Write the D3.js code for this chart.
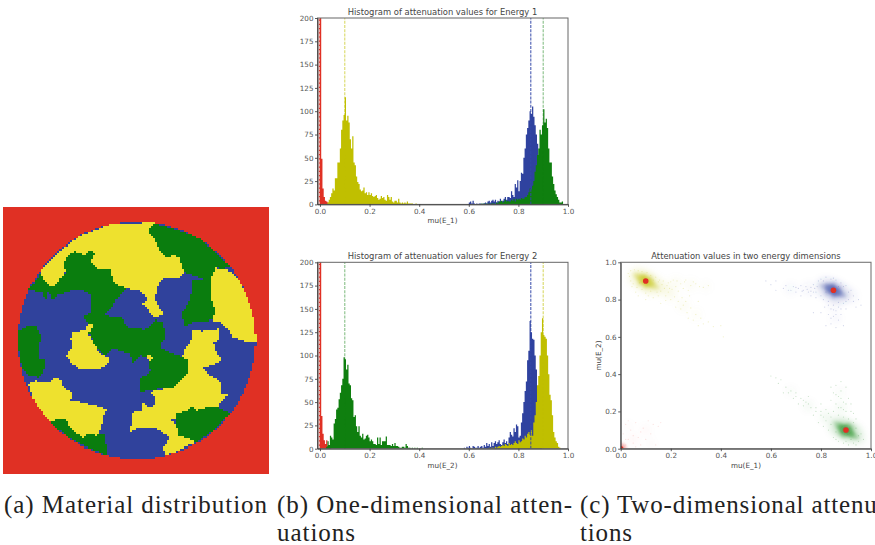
<!DOCTYPE html>
<html>
<head>
<meta charset="utf-8">
<script src="https://d3js.org/d3.v7.min.js"></script>
<style>
html, body { margin: 0; padding: 0; background: #fff; overflow: hidden; }
text { font-family: "DejaVu Sans", sans-serif; fill: #444; }
.caption { font-family: "Liberation Serif", serif; font-size: 25px; fill: #222; }
.axis path, .axis line { stroke: #333; stroke-width: 0.8; }
.axis text { font-size: 7.2px; fill: #555; font-family: "DejaVu Sans", sans-serif; }
</style>
</head>
<body>
<svg id="plate" width="875" height="545"></svg>
<script>
// material map regions, in map units (blue is what is left inside the disc)
var mapYellow = [
  [[120,215],[170,160],[235,110],[330,72],[465,65],[445,85],[445,100],[465,120],[480,150],[500,172],[518,165],[540,170],[545,205],[555,215],[530,235],[495,230],[478,245],[470,265],[465,300],[478,320],[490,340],[465,355],[450,340],[440,325],[425,310],[440,295],[425,275],[400,268],[380,265],[355,255],[340,240],[332,205],[315,208],[300,210],[282,195],[268,185],[285,160],[270,148],[258,162],[245,160],[225,152],[205,165],[188,188],[195,215],[180,235],[165,258],[145,255],[130,235]],
  [[650,200],[660,210],[670,205],[690,215],[715,235],[745,290],[767,370],[767,425],[735,425],[720,420],[695,410],[680,380],[660,365],[635,360],[650,325],[640,320],[632,290],[630,235]],
  [[270,365],[280,370],[265,400],[280,430],[292,450],[305,465],[325,470],[325,490],[310,500],[300,510],[270,505],[240,510],[215,490],[198,465],[215,440],[212,415],[215,395],[255,390]],
  [[85,550],[105,540],[125,548],[150,545],[162,535],[180,535],[190,565],[215,575],[215,595],[195,605],[225,600],[260,610],[285,615],[320,628],[308,650],[305,680],[290,705],[265,700],[250,712],[225,695],[215,690],[195,655],[170,660],[150,665],[110,620]],
  [[580,390],[605,392],[655,385],[660,420],[640,430],[650,455],[665,480],[640,495],[605,505],[630,525],[660,540],[665,585],[685,585],[665,600],[655,620],[620,622],[590,630],[578,615],[560,632],[525,640],[525,660],[510,655],[530,680],[530,705],[560,712],[590,725],[500,765],[490,745],[510,710],[470,685],[440,680],[410,685],[390,695],[400,635],[425,630],[430,610],[445,622],[460,620],[465,595],[450,575],[525,560],[535,545],[565,515],[565,478],[545,470],[555,445],[575,420]],
  [[445,458],[460,475],[445,485],[440,470]]
];
var mapGreen = [
  [[120,220],[145,255],[165,258],[195,215],[188,188],[205,165],[225,152],[245,160],[258,162],[270,148],[285,160],[268,185],[300,210],[332,205],[340,240],[380,265],[362,282],[345,300],[340,315],[315,345],[345,352],[360,348],[372,365],[385,380],[415,380],[430,388],[450,375],[465,360],[490,365],[497,410],[480,440],[510,455],[565,478],[565,515],[535,545],[525,560],[450,570],[420,575],[418,535],[450,515],[445,470],[420,465],[398,488],[390,460],[362,452],[340,445],[315,465],[295,445],[280,430],[268,400],[270,370],[252,350],[272,335],[272,285],[250,270],[215,272],[175,285],[160,298],[145,275],[135,298],[125,276],[85,270],[100,250]],
  [[445,85],[465,70],[520,85],[590,110],[640,150],[690,200],[660,208],[650,200],[630,235],[632,290],[640,320],[650,325],[635,360],[600,362],[580,365],[555,380],[545,340],[565,310],[580,265],[575,240],[610,235],[580,225],[555,215],[545,205],[540,170],[518,165],[500,172],[480,150],[465,120],[445,100]],
  [[55,390],[85,375],[105,375],[125,410],[115,440],[115,475],[135,480],[135,505],[115,530],[85,525],[65,500],[55,440]],
  [[150,665],[170,660],[195,655],[225,695],[250,712],[265,700],[290,705],[315,700],[322,765],[270,745],[210,715]],
  [[525,640],[560,632],[578,615],[590,630],[620,622],[655,620],[690,640],[640,690],[590,725],[560,712],[530,705],[530,680],[525,660]],
  [[730,265],[745,280],[740,290],[728,275]]
];
var mapCircle = {cx: 410, cy: 420, r: 357};

// histogram counts, one bin every 0.005, first value at the given start
var binWidth = 0.005;
var e1Red = {start: -0.005, counts: [500,500,49,17,8,4,3,2,1]};
var e1Yellow = {start: 0.03, counts: [2,5,8,12,17,15,28,28,45,45,60,80,90,96,115,90,95,88,70,60,73,45,42,30,24,22,16,14,15,18,12,13,10,13,10,12,9,8,9,10,7,5,6,9,7,8,5,4,10,8,5,8,3,2,4,4,2,6,2,1,2,1,2,1,3,1,1,1,1,0,0,1]};
var e1Blue = {start: 0.6, counts: [2,3,1,4,1,0,1,0,1,1,0,1,1,2,1,3,4,2,4,5,3,5,2,4,3,6,3,4,6,8,5,8,8,7,14,10,8,22,18,26,14,25,34,33,50,60,75,82,90,100,97,105,94,85,75,65,45,25,18,8,4]};
var e1Green = {start: 0.65, counts: [1,0,1,0,1,0,1,0,1,1,1,0,2,1,3,3,4,2,3,5,3,4,3,3,5,4,6,3,6,5,6,5,7,6,6,8,8,10,13,17,16,20,25,35,42,53,60,80,75,85,102,88,92,82,60,45,45,30,22,15,11,8,5,2,2,3]};
var e2Red = {start: -0.005, counts: [500,500,35,16,9,5,9,3,4,1]};
var e2Green = {start: 0.025, counts: [2,8,4,14,12,10,27,32,42,44,53,60,68,75,98,96,85,90,70,68,54,52,34,36,24,18,24,14,12,16,10,11,14,15,12,8,10,8,5,5,4,12,5,12,4,8,8,8,13,4,4,4,3,5,3,6,3,3,2,1,1,2,2,1,5,3,1,1,0,1,0,1,0,1,0,0,0,1]};
var e2Blue = {start: 0.58, counts: [1,0,2,1,3,1,0,3,2,1,1,3,1,2,3,1,4,2,6,3,5,2,7,3,6,8,5,7,9,5,4,7,10,6,8,5,12,18,15,13,22,18,26,24,12,14,28,38,50,62,72,95,105,137,125,118,117,100,85,60,30,10,4]};
var e2Yellow = {start: 0.68, counts: [1,0,1,1,0,2,1,2,3,2,3,4,3,5,4,3,6,4,5,4,6,8,6,5,9,7,8,11,10,14,12,16,18,15,20,14,28,36,50,68,78,100,125,140,122,120,118,100,80,58,52,36,18,12,8,6,2,1]};
var e1Means = [{v: -0.003, c: '#ffffff', a: 0.75}, {v: 0.1, c: '#bfbf00', a: 0.6}, {v: 0.85, c: '#3347a8', a: 0.9}, {v: 0.9, c: '#0f7f0f', a: 0.5}];
var e2Means = [{v: -0.003, c: '#ffffff', a: 0.75}, {v: 0.1, c: '#0f7f0f', a: 0.5}, {v: 0.85, c: '#3347a8', a: 0.9}, {v: 0.9, c: '#bfbf00', a: 0.6}];
var histTicksX = [0, 0.2, 0.4, 0.6, 0.8, 1];
var histTicksY = [0, 25, 50, 75, 100, 125, 150, 175, 200];

// scatter: wide haze and tighter core blobs [mu1, mu2, weight], single specks [mu1, mu2]
var yellowHaze = [[0.1,0.9,1.6],[0.07,0.92,1],[0.13,0.875,1],[0.17,0.86,0.6],[0.2,0.83,0.45],[0.25,0.77,0.35],[0.3,0.72,0.25],[0.22,0.89,0.35],[0.28,0.88,0.3],[0.34,0.87,0.2]];
var blueHaze = [[0.85,0.85,1.6],[0.82,0.865,1],[0.88,0.83,1],[0.75,0.86,0.4],[0.68,0.86,0.3],[0.85,0.78,0.4],[0.86,0.7,0.25],[0.92,0.82,0.4]];
var greenHaze = [[0.9,0.1,1.6],[0.87,0.12,1],[0.93,0.08,1],[0.82,0.17,0.4],[0.75,0.23,0.3],[0.68,0.31,0.2],[0.88,0.22,0.35],[0.88,0.3,0.2],[0.96,0.05,0.3]];
var redHaze = [[0.05,0.05,0.25],[0.1,0.1,0.2],[0.03,0.12,0.15],[0.12,0.03,0.15]];
var yellowCore = [[0.1,0.9,1],[0.085,0.91,0.9],[0.115,0.89,0.9],[0.07,0.925,0.6],[0.13,0.875,0.6],[0.1,0.875,0.5],[0.095,0.925,0.5],[0.055,0.935,0.3],[0.145,0.865,0.3],[0.12,0.92,0.3],[0.075,0.885,0.3]];
var blueCore = [[0.85,0.85,1],[0.835,0.86,0.9],[0.865,0.84,0.9],[0.82,0.87,0.6],[0.88,0.83,0.6],[0.85,0.825,0.5],[0.85,0.875,0.5],[0.8,0.875,0.3],[0.895,0.82,0.3],[0.875,0.865,0.3],[0.825,0.835,0.3]];
var greenCore = [[0.9,0.1,1],[0.885,0.11,0.85],[0.915,0.085,0.85],[0.87,0.125,0.55],[0.93,0.07,0.55],[0.89,0.075,0.5],[0.91,0.125,0.45],[0.855,0.14,0.25],[0.945,0.06,0.3],[0.875,0.085,0.3],[0.925,0.115,0.3]];
var redCore = [[0.002,0.002,1]];
var yellowSpecks = [[0.04,0.955],[0.03,0.94],[0.055,0.96],[0.07,0.955],[0.085,0.95],[0.105,0.945],[0.12,0.93],[0.14,0.92],[0.15,0.895],[0.165,0.88],[0.175,0.86],[0.16,0.845],[0.145,0.84],[0.12,0.845],[0.1,0.835],[0.085,0.855],[0.065,0.865],[0.05,0.885],[0.04,0.9],[0.075,0.89],[0.13,0.905],[0.2,0.895],[0.22,0.87],[0.24,0.885],[0.26,0.905],[0.28,0.875],[0.3,0.885],[0.33,0.865],[0.35,0.875],[0.25,0.86],[0.21,0.905],[0.19,0.84],[0.18,0.82],[0.2,0.8],[0.215,0.815],[0.23,0.79],[0.25,0.77],[0.24,0.75],[0.265,0.73],[0.28,0.755],[0.3,0.72],[0.29,0.69],[0.32,0.7],[0.33,0.67],[0.35,0.68],[0.37,0.655],[0.4,0.66],[0.41,0.6],[0.1,0.8],[0.07,0.82],[0.13,0.81],[0.16,0.78],[0.035,0.925],[0.185,0.875],[0.155,0.905],[0.275,0.82],[0.31,0.79],[0.19,0.89],[0.205,0.855],[0.23,0.845],[0.255,0.895],[0.27,0.85],[0.29,0.895],[0.315,0.87],[0.17,0.9],[0.195,0.86],[0.225,0.9],[0.245,0.81],[0.26,0.79],[0.22,0.76],[0.27,0.7],[0.31,0.66],[0.15,0.82],[0.11,0.82],[0.06,0.84],[0.045,0.87],[0.18,0.795]];
var blueSpecks = [[0.6,0.88],[0.58,0.9],[0.62,0.85],[0.65,0.86],[0.66,0.875],[0.68,0.85],[0.69,0.87],[0.7,0.84],[0.71,0.86],[0.72,0.875],[0.73,0.85],[0.74,0.87],[0.75,0.84],[0.76,0.865],[0.77,0.88],[0.78,0.84],[0.79,0.9],[0.8,0.91],[0.82,0.92],[0.84,0.91],[0.86,0.905],[0.88,0.89],[0.9,0.875],[0.92,0.85],[0.93,0.82],[0.91,0.8],[0.89,0.78],[0.87,0.785],[0.85,0.77],[0.83,0.79],[0.81,0.8],[0.8,0.82],[0.78,0.81],[0.84,0.75],[0.86,0.74],[0.88,0.72],[0.85,0.71],[0.83,0.72],[0.87,0.69],[0.84,0.67],[0.86,0.65],[0.82,0.66],[0.89,0.66],[0.8,0.73],[0.9,0.75],[0.95,0.8],[0.94,0.76],[0.62,0.9],[0.77,0.73],[0.72,0.82],[0.82,0.84],[0.76,0.82],[0.91,0.84],[0.87,0.87],[0.67,0.85],[0.7,0.865],[0.725,0.845],[0.745,0.855],[0.76,0.845],[0.775,0.86],[0.785,0.87],[0.77,0.84],[0.83,0.77],[0.85,0.745],[0.87,0.76],[0.88,0.75],[0.84,0.7],[0.86,0.72],[0.815,0.76],[0.9,0.79],[0.93,0.79],[0.96,0.77],[0.81,0.9],[0.85,0.915],[0.89,0.87]];
var greenSpecks = [[0.62,0.38],[0.64,0.37],[0.63,0.35],[0.66,0.33],[0.68,0.31],[0.7,0.3],[0.69,0.27],[0.72,0.27],[0.74,0.25],[0.73,0.23],[0.76,0.22],[0.78,0.2],[0.77,0.18],[0.8,0.18],[0.82,0.15],[0.81,0.12],[0.84,0.17],[0.83,0.1],[0.85,0.06],[0.87,0.04],[0.89,0.03],[0.91,0.02],[0.93,0.03],[0.95,0.04],[0.97,0.05],[0.96,0.08],[0.94,0.11],[0.93,0.14],[0.91,0.16],[0.89,0.17],[0.87,0.18],[0.9,0.2],[0.88,0.22],[0.86,0.24],[0.84,0.26],[0.89,0.25],[0.91,0.27],[0.87,0.28],[0.85,0.3],[0.88,0.31],[0.9,0.33],[0.86,0.34],[0.88,0.36],[0.84,0.33],[0.92,0.24],[0.93,0.19],[0.8,0.24],[0.75,0.28],[0.71,0.24],[0.65,0.3],[0.79,0.14],[0.86,0.09],[0.95,0.07],[0.82,0.21],[0.6,0.39],[0.67,0.3],[0.7,0.28],[0.73,0.26],[0.75,0.24],[0.78,0.22],[0.8,0.2],[0.81,0.17],[0.83,0.19],[0.85,0.2],[0.87,0.22],[0.89,0.21],[0.9,0.24],[0.88,0.27],[0.86,0.29],[0.92,0.2],[0.94,0.16],[0.84,0.13],[0.86,0.05],[0.9,0.04],[0.92,0.05],[0.94,0.02]];
var redSpecks = [[0.02,0.02],[0.03,0.05],[0.01,0.08],[0.05,0.03],[0.07,0.06],[0.04,0.1],[0.02,0.13],[0.06,0.14],[0.09,0.11],[0.1,0.05],[0.12,0.08],[0.08,0.02],[0.14,0.02],[0.13,0.13],[0.15,0.12],[0.11,0.15],[0.05,0.07],[0.03,0.15],[0.08,0.09],[0.02,0.05],[0.16,0.14],[0.06,0.01]];
var scatterMeans = [[0.1,0.9],[0.85,0.85],[0.9,0.1],[0,0]];
var scatterTicks = [0, 0.2, 0.4, 0.6, 0.8, 1];

var colors = {red: '#e03024', yellow: '#c0bf00', green: '#0f7f0f', blue: '#2f429f', mapYellow: '#eee12e', mapGreen: '#0a7d0e'};

var svg = d3.select('#plate');
var fmt = d3.format('.1f');

// material map, sampled on a 128 x 128 grid so it keeps its blocky look
function drawMap() {
    var n = 128;
    var x = d3.scaleLinear().domain([10, 807]).range([3.4, 269]);
    var y = d3.scaleLinear().domain([20, 820]).range([207, 473.5]);
    var step = (807 - 10) / n;
    var stepY = (820 - 20) / n;
    var g = svg.append('g').attr('shape-rendering', 'crispEdges');
    function colorAt(px, py) {
        if (Math.hypot(px - mapCircle.cx, py - mapCircle.cy) > mapCircle.r) return colors.red;
        if (mapYellow.some(function(p) { return d3.polygonContains(p, [px, py]); })) return colors.mapYellow;
        if (mapGreen.some(function(p) { return d3.polygonContains(p, [px, py]); })) return colors.mapGreen;
        return '#30429c';
    }
    d3.range(n).forEach(function(row) {
        var py = 20 + row * stepY;
        var runStart = 0;
        var current = colorAt(10 + step / 2, py + stepY / 2);
        d3.range(1, n + 1).forEach(function(col) {
            var c = col < n ? colorAt(10 + (col + 0.5) * step, py + stepY / 2) : null;
            if (c !== current) {
                g.append('rect')
                    .attr('x', x(10 + runStart * step))
                    .attr('y', y(py))
                    .attr('width', x(10 + col * step) - x(10 + runStart * step))
                    .attr('height', y(py + stepY) - y(py) + 0.5)
                    .attr('fill', current);
                runStart = col;
                current = c;
            }
        });
    });
}

function drawHist(cfg) {
    var x = d3.scaleLinear().domain([-0.01, 1]).range([317.5, 568]);
    var y = d3.scaleLinear().domain([0, 200]).range([cfg.bottom, cfg.top]);
    var clipId = 'clip' + Math.round(cfg.top);
    svg.append('clipPath').attr('id', clipId).append('rect')
        .attr('x', 317.5).attr('y', cfg.top).attr('width', 250.5).attr('height', cfg.bottom - cfg.top);
    var g = svg.append('g').attr('clip-path', 'url(#' + clipId + ')');
    // each histogram is one stepped area, so no seams show between the bins
    var area = d3.area().curve(d3.curveStepAfter)
        .x(function(d) { return x(d.x); })
        .y0(y(0))
        .y1(function(d) { return y(d.n); });
    cfg.series.forEach(function(s) {
        var bins = s.data.counts.map(function(n, i) { return {x: s.data.start + i * binWidth, n: n}; });
        bins.push({x: s.data.start + s.data.counts.length * binWidth, n: 0});
        g.append('path').datum(bins).attr('fill', s.color).attr('d', area);
    });
    g.selectAll('line.mean').data(cfg.means).enter().append('line')
        .attr('class', 'mean')
        .attr('x1', function(d) { return x(d.v); })
        .attr('x2', function(d) { return x(d.v); })
        .attr('y1', y(0)).attr('y2', y(200))
        .attr('stroke', function(d) { return d.c; })
        .attr('stroke-opacity', function(d) { return d.a; })
        .attr('stroke-width', 1.1)
        .attr('stroke-dasharray', '3,1.2');

    svg.append('rect').attr('x', 317.5).attr('y', cfg.top).attr('width', 250.5).attr('height', cfg.bottom - cfg.top)
        .attr('fill', 'none').attr('stroke', '#666').attr('stroke-width', 1);
    svg.append('g').attr('class', 'axis').attr('transform', 'translate(0,' + cfg.bottom + ')')
        .call(d3.axisBottom(x).tickValues(histTicksX).tickFormat(fmt).tickSize(2.5).tickSizeOuter(0).tickPadding(1.5));
    svg.append('g').attr('class', 'axis').attr('transform', 'translate(317.5,0)')
        .call(d3.axisLeft(y).tickValues(histTicksY).tickSize(2.5).tickSizeOuter(0).tickPadding(1.5));
    svg.append('text').attr('x', 442.5).attr('y', cfg.top - 3.5).attr('text-anchor', 'middle')
        .attr('font-size', 8.4).text(cfg.title);
    svg.append('text').attr('x', 442.5).attr('y', cfg.bottom + 19).attr('text-anchor', 'middle')
        .attr('font-size', 7.2).text(cfg.label);
}

function drawScatter() {
    var x = d3.scaleLinear().domain([0, 1]).range([620.7, 871]);
    var y = d3.scaleLinear().domain([0, 1]).range([448.7, 262.3]);
    var defs = svg.append('defs');
    defs.append('filter').attr('id', 'soft')
        .attr('x', '-100%').attr('y', '-100%').attr('width', '300%').attr('height', '300%')
        .append('feGaussianBlur').attr('stdDeviation', 1.6);
    defs.append('filter').attr('id', 'haze')
        .attr('x', '-100%').attr('y', '-100%').attr('width', '300%').attr('height', '300%')
        .append('feGaussianBlur').attr('stdDeviation', 3.5);
    svg.append('clipPath').attr('id', 'clipScatter').append('rect')
        .attr('x', 620.7).attr('y', 262.3).attr('width', 250.3).attr('height', 186.4);
    var g = svg.append('g').attr('clip-path', 'url(#clipScatter)');

    var clouds = [
        {haze: yellowHaze, core: yellowCore, specks: yellowSpecks, color: colors.yellow, op: 0.22},
        {haze: blueHaze, core: blueCore, specks: blueSpecks, color: colors.blue, op: 0.22},
        {haze: greenHaze, core: greenCore, specks: greenSpecks, color: colors.green, op: 0.22},
        {haze: redHaze, core: redCore, specks: redSpecks, color: colors.red, op: 0.14}
    ];
    clouds.forEach(function(c) {
        g.append('g').attr('filter', 'url(#haze)').selectAll('circle').data(c.haze).enter().append('circle')
            .attr('cx', function(d) { return x(d[0]); })
            .attr('cy', function(d) { return y(d[1]); })
            .attr('r', function(d) { return 4 + 5 * Math.min(d[2], 1); })
            .attr('fill', c.color)
            .attr('fill-opacity', function(d) { return 0.14 * d[2]; });
        g.append('g').selectAll('circle').data(c.specks).enter().append('circle')
            .attr('cx', function(d) { return x(d[0]); })
            .attr('cy', function(d) { return y(d[1]); })
            .attr('r', 0.6)
            .attr('fill', c.color)
            .attr('fill-opacity', c.op);
        g.append('g').attr('filter', 'url(#soft)').selectAll('circle').data(c.core).enter().append('circle')
            .attr('cx', function(d) { return x(d[0]); })
            .attr('cy', function(d) { return y(d[1]); })
            .attr('r', function(d) { return 1.5 + 3.5 * d[2]; })
            .attr('fill', c.color)
            .attr('fill-opacity', function(d) { return 0.4 * d[2]; });
    });
    g.selectAll('circle.mean').data(scatterMeans).enter().append('circle')
        .attr('class', 'mean')
        .attr('cx', function(d) { return x(d[0]); })
        .attr('cy', function(d) { return y(d[1]); })
        .attr('r', 2.8)
        .attr('fill', colors.red);

    svg.append('rect').attr('x', 620.7).attr('y', 262.3).attr('width', 250.3).attr('height', 186.4)
        .attr('fill', 'none').attr('stroke', '#777').attr('stroke-width', 1.1);
    svg.append('g').attr('class', 'axis').attr('transform', 'translate(0,448.7)')
        .call(d3.axisBottom(x).tickValues(scatterTicks).tickFormat(fmt).tickSize(2.5).tickSizeOuter(0).tickPadding(1.5));
    svg.append('g').attr('class', 'axis').attr('transform', 'translate(620.7,0)')
        .call(d3.axisLeft(y).tickValues(scatterTicks).tickFormat(fmt).tickSize(2.5).tickSizeOuter(0).tickPadding(1.5));
    svg.append('text').attr('x', 746).attr('y', 258.5).attr('text-anchor', 'middle')
        .attr('font-size', 8.4).text('Attenuation values in two energy dimensions');
    svg.append('text').attr('x', 746).attr('y', 468).attr('text-anchor', 'middle')
        .attr('font-size', 7.2).text('mu(E_1)');
    svg.append('text').attr('transform', 'translate(600.5,355.5) rotate(-90)').attr('text-anchor', 'middle')
        .attr('font-size', 7.2).text('mu(E_2)');
}

drawMap();
drawHist({
    top: 18, bottom: 204.4,
    title: 'Histogram of attenuation values for Energy 1', label: 'mu(E_1)', means: e1Means,
    series: [{data: e1Red, color: colors.red}, {data: e1Yellow, color: colors.yellow}, {data: e1Blue, color: colors.blue}, {data: e1Green, color: colors.green}]
});
drawHist({
    top: 262.3, bottom: 448.7,
    title: 'Histogram of attenuation values for Energy 2', label: 'mu(E_2)', means: e2Means,
    series: [{data: e2Red, color: colors.red}, {data: e2Green, color: colors.green}, {data: e2Blue, color: colors.blue}, {data: e2Yellow, color: colors.yellow}]
});
drawScatter();

// captions
var captions = [
    {x: 4, y: 513, t: '(a) Material distribution', w: 263},
    {x: 277, y: 513, t: '(b) One-dimensional atten-', w: 295},
    {x: 277, y: 541, t: 'uations', w: 78},
    {x: 580, y: 513, t: '(c) Two-dimensional attenua-', w: 318},
    {x: 580, y: 541, t: 'tions', w: 52}
];
svg.selectAll('text.caption').data(captions).enter().append('text')
    .attr('class', 'caption')
    .attr('x', function(d) { return d.x; })
    .attr('y', function(d) { return d.y; })
    .attr('textLength', function(d) { return d.w; })
    .text(function(d) { return d.t; });
</script>
</body>
</html>
